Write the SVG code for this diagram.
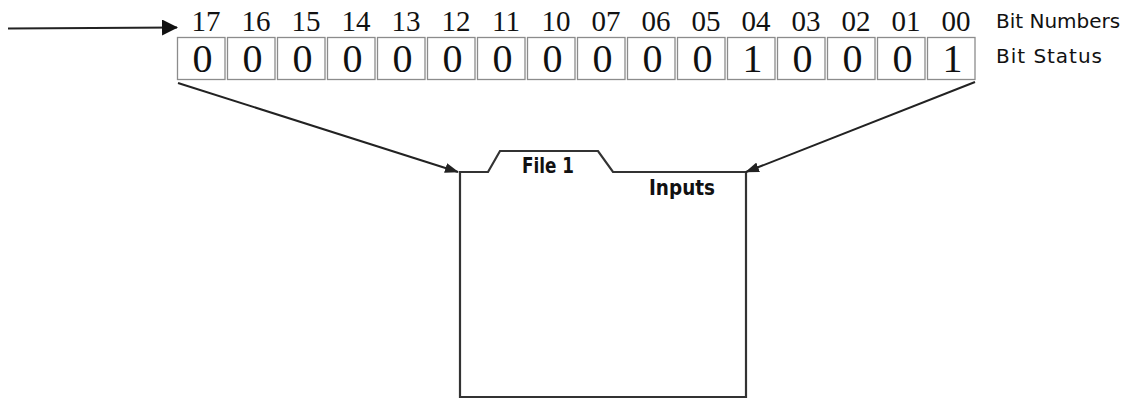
<svg xmlns="http://www.w3.org/2000/svg" width="1127" height="405" viewBox="0 0 1127 405">
  <defs>
    <style>
      .cell { fill: #fff; stroke: #8c8c8c; stroke-width: 1.3; }
      .num { font-family: "Liberation Serif", "Times New Roman", serif; font-size: 29px; fill: #111; text-anchor: middle; }
      .bit { font-family: "Liberation Serif", "Times New Roman", serif; font-size: 40px; fill: #111; text-anchor: middle; }
      .label { font-family: "DejaVu Sans", sans-serif; font-size: 20px; fill: #111; }
      .tab { font-family: "DejaVu Sans Condensed", "DejaVu Sans", sans-serif; font-weight: bold; font-size: 22px; fill: #111; }
      .wire { stroke: #222; stroke-width: 2; fill: none; }
      .folder { fill: #fff; stroke: #333; stroke-width: 2.2; stroke-linejoin: miter; }
    </style>
    <marker id="bigHead" markerWidth="16" markerHeight="16" refX="15" refY="8" orient="auto" markerUnits="userSpaceOnUse">
      <path d="M0,0 L16,8 L0,16 Z" fill="#111"/>
    </marker>
    <marker id="head" markerWidth="14" markerHeight="10" refX="13" refY="5" orient="auto" markerUnits="userSpaceOnUse">
      <path d="M0,0 L14,5 L0,10 Z" fill="#222"/>
    </marker>
  </defs>

  <!-- register bit cells -->
  <g id="register">
    <g id="bit-numbers">
      <text class="num" x="206" y="31">17</text>
      <text class="num" x="256" y="31">16</text>
      <text class="num" x="306" y="31">15</text>
      <text class="num" x="356" y="31">14</text>
      <text class="num" x="406" y="31">13</text>
      <text class="num" x="456" y="31">12</text>
      <text class="num" x="506" y="31">11</text>
      <text class="num" x="556" y="31">10</text>
      <text class="num" x="606" y="31">07</text>
      <text class="num" x="656" y="31">06</text>
      <text class="num" x="706" y="31">05</text>
      <text class="num" x="756" y="31">04</text>
      <text class="num" x="806" y="31">03</text>
      <text class="num" x="856" y="31">02</text>
      <text class="num" x="906" y="31">01</text>
      <text class="num" x="956" y="31">00</text>
    </g>
    <g id="bit-cells">
      <rect class="cell" x="177.5" y="37.5" width="47.5" height="42"/>
      <rect class="cell" x="227.5" y="37.5" width="47.5" height="42"/>
      <rect class="cell" x="277.5" y="37.5" width="47.5" height="42"/>
      <rect class="cell" x="327.5" y="37.5" width="47.5" height="42"/>
      <rect class="cell" x="377.5" y="37.5" width="47.5" height="42"/>
      <rect class="cell" x="427.5" y="37.5" width="47.5" height="42"/>
      <rect class="cell" x="477.5" y="37.5" width="47.5" height="42"/>
      <rect class="cell" x="527.5" y="37.5" width="47.5" height="42"/>
      <rect class="cell" x="577.5" y="37.5" width="47.5" height="42"/>
      <rect class="cell" x="627.5" y="37.5" width="47.5" height="42"/>
      <rect class="cell" x="677.5" y="37.5" width="47.5" height="42"/>
      <rect class="cell" x="727.5" y="37.5" width="47.5" height="42"/>
      <rect class="cell" x="777.5" y="37.5" width="47.5" height="42"/>
      <rect class="cell" x="827.5" y="37.5" width="47.5" height="42"/>
      <rect class="cell" x="877.5" y="37.5" width="47.5" height="42"/>
      <rect class="cell" x="927.5" y="37.5" width="47.5" height="42"/>
    </g>
    <g id="bit-values">
      <text class="bit" x="202.5" y="71.5">0</text>
      <text class="bit" x="252.5" y="71.5">0</text>
      <text class="bit" x="302.5" y="71.5">0</text>
      <text class="bit" x="352.5" y="71.5">0</text>
      <text class="bit" x="402.5" y="71.5">0</text>
      <text class="bit" x="452.5" y="71.5">0</text>
      <text class="bit" x="502.5" y="71.5">0</text>
      <text class="bit" x="552.5" y="71.5">0</text>
      <text class="bit" x="602.5" y="71.5">0</text>
      <text class="bit" x="652.5" y="71.5">0</text>
      <text class="bit" x="702.5" y="71.5">0</text>
      <text class="bit" x="752.5" y="71.5">1</text>
      <text class="bit" x="802.5" y="71.5">0</text>
      <text class="bit" x="852.5" y="71.5">0</text>
      <text class="bit" x="902.5" y="71.5">0</text>
      <text class="bit" x="952.5" y="71.5">1</text>
    </g>
  </g>

  <g id="row-labels">
    <text class="label" x="996" y="28">Bit Numbers</text>
    <text class="label" x="996" y="63" textLength="106">Bit Status</text>
  </g>

  <!-- data file folder -->
  <g id="file1">
    <path class="folder" d="M460,172 L488,172 L500,151 L598,151 L613,172 L746,172 L746,397 L460,397 Z"/>
    <text class="tab" x="522" y="173" textLength="52" lengthAdjust="spacingAndGlyphs">File 1</text>
    <text class="tab" x="649" y="195" textLength="66" lengthAdjust="spacingAndGlyphs">Inputs</text>
  </g>

  <g id="connectors">
    <line class="wire" x1="8" y1="28.5" x2="177" y2="27.5" marker-end="url(#bigHead)"/>
    <line class="wire" x1="178" y1="83" x2="458" y2="172" marker-end="url(#head)"/>
    <line class="wire" x1="975" y1="82" x2="746" y2="172" marker-end="url(#head)"/>
  </g>
</svg>
